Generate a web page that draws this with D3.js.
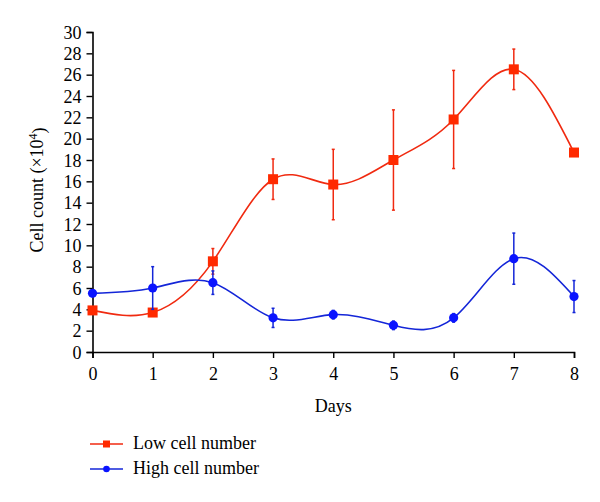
<!DOCTYPE html>
<html>
<head>
<meta charset="utf-8">
<script src="https://cdn.jsdelivr.net/npm/d3@7"></script>
<style>
  body { margin: 0; background: #fff; }
  text { font-family: "Liberation Serif", "DejaVu Serif", serif; }
</style>
</head>
<body>
<svg id="chart" width="600" height="502"></svg>
<script>
var days = [0, 1, 2, 3, 4, 5, 6, 7, 8];
var lowMean = [3.9, 3.7, 8.5, 16.2, 15.7, 18.0, 21.8, 26.5, 18.7];
var lowErr = [0, 0, 1.2, 1.9, 3.3, 4.7, 4.6, 1.9, 0];
var highMean = [5.5, 6.0, 6.5, 3.2, 3.5, 2.5, 3.2, 8.75, 5.2];
var highErr = [0, 2.0, 1.1, 0.9, 0.4, 0.4, 0.4, 2.4, 1.5];
var yTicks = d3.range(0, 31, 2);
var seriesNames = ["Low cell number", "High cell number"];

var margin = {top: 32, left: 92.5, width: 481.5, height: 320};

var svg = d3.select("#chart");
var g = svg.append("g").attr("transform", "translate(" + margin.left + "," + margin.top + ")");

var x = d3.scaleLinear().domain([0, 8]).range([0, margin.width]);
var y = d3.scaleLinear().domain([0, 30]).range([margin.height, 0]);

/* axes */
var xAxis = g.append("g")
  .attr("transform", "translate(0," + margin.height + ")")
  .call(d3.axisBottom(x).tickValues(days).tickSizeOuter(0).tickSize(6).tickPadding(9));
var yAxis = g.append("g")
  .call(d3.axisLeft(y).tickValues(yTicks).tickSizeOuter(0).tickSize(6).tickPadding(5));

[xAxis, yAxis].forEach(function(a) {
  a.select(".domain").attr("stroke", "#000").attr("stroke-width", 1.6);
  a.selectAll(".tick line").attr("stroke", "#000").attr("stroke-width", 1.4);
  a.selectAll(".tick text")
    .attr("fill", "#000")
    .style("font-size", "18px")
    .style("font-family", "'Liberation Serif', serif");
});
yAxis.selectAll(".tick text").attr("dy", "0.34em");

g.append("text")
  .attr("x", margin.width / 2)
  .attr("y", margin.height + 60)
  .attr("text-anchor", "middle")
  .style("font-size", "18px")
  .text("Days");

var yl = g.append("text")
  .attr("transform", "translate(-50," + (margin.height / 2 - 2) + ") rotate(-90)")
  .attr("text-anchor", "middle")
  .style("font-size", "18px");
yl.append("tspan").text("Cell count (\u00d710");
yl.append("tspan").attr("dy", "-0.45em").style("font-size", "12px").text("4");
yl.append("tspan").attr("dy", "0.45em").text(")");

var series = [
  {name: seriesNames[0], mean: lowMean, err: lowErr, line: "#f02a10", mark: "#ff2a00", shape: "square"},
  {name: seriesNames[1], mean: highMean, err: highErr, line: "#1426d8", mark: "#0a14ff", shape: "circle"}
];

var line = d3.line()
  .x(function(d, i) { return x(days[i]); })
  .y(function(d) { return y(d); })
  .curve(d3.curveNatural);

series.forEach(function(s) {
  var sg = g.append("g");

  sg.append("path")
    .datum(s.mean)
    .attr("fill", "none")
    .attr("stroke", s.line)
    .attr("stroke-width", 1.6)
    .attr("d", line);

  /* error bars */
  var eb = sg.selectAll(".err")
    .data(s.mean.map(function(m, i) { return {x: days[i], m: m, e: s.err[i]}; })
      .filter(function(d) { return d.e > 0; }))
    .enter().append("g").attr("class", "err")
    .attr("stroke", s.line)
    .attr("stroke-width", 1.5);
  eb.append("line")
    .attr("x1", function(d) { return x(d.x); })
    .attr("x2", function(d) { return x(d.x); })
    .attr("y1", function(d) { return y(d.m - d.e); })
    .attr("y2", function(d) { return y(d.m + d.e); });
  [-1, 1].forEach(function(sign) {
    eb.append("line")
      .attr("x1", function(d) { return x(d.x) - 1.5; })
      .attr("x2", function(d) { return x(d.x) + 1.5; })
      .attr("y1", function(d) { return y(d.m + sign * d.e); })
      .attr("y2", function(d) { return y(d.m + sign * d.e); });
  });

  /* markers */
  var pts = sg.selectAll(".pt").data(s.mean).enter();
  if (s.shape === "square") {
    pts.append("rect")
      .attr("x", function(d, i) { return x(days[i]) - 5; })
      .attr("y", function(d) { return y(d) - 5; })
      .attr("width", 10)
      .attr("height", 10)
      .attr("fill", s.mark);
  } else {
    pts.append("circle")
      .attr("cx", function(d, i) { return x(days[i]); })
      .attr("cy", function(d) { return y(d); })
      .attr("r", 4.6)
      .attr("fill", s.mark);
  }
});

/* legend */
var legend = svg.append("g").attr("transform", "translate(90,444)");
series.forEach(function(s, i) {
  var lg = legend.append("g").attr("transform", "translate(0," + (i * 25) + ")");
  lg.append("line")
    .attr("x1", 0).attr("x2", 33)
    .attr("stroke", s.line).attr("stroke-width", 1.6);
  if (s.shape === "square") {
    lg.append("rect").attr("x", 13).attr("y", -3.5).attr("width", 7).attr("height", 7).attr("fill", s.mark);
  } else {
    lg.append("circle").attr("cx", 16.5).attr("r", 3.3).attr("fill", s.mark);
  }
  lg.append("text")
    .attr("x", 43)
    .attr("y", 0)
    .attr("dy", "0.3em")
    .style("font-size", "18px")
    .text(s.name);
});
</script>
</body>
</html>
